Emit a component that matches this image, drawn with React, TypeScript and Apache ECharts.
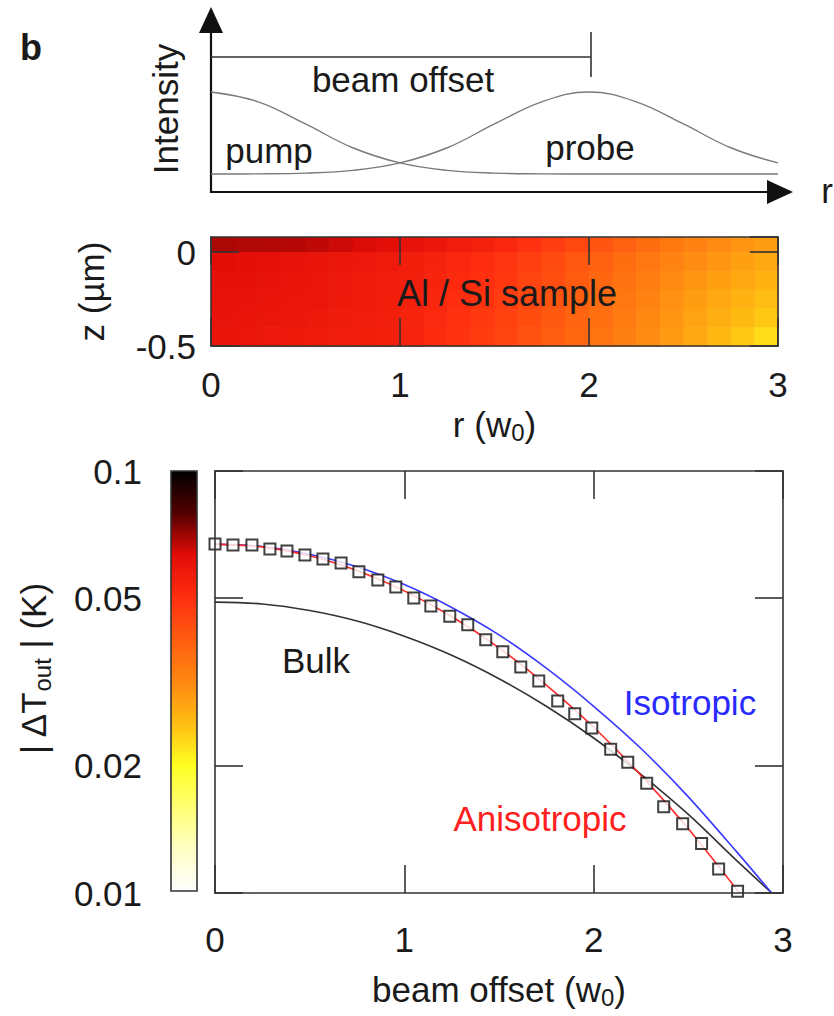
import { useEffect, useRef } from "react";
import * as echarts from "echarts";

const FONT = "'Liberation Sans', Arial, Helvetica, sans-serif";
const INK = "#1a1a1a";
const FRAME = "#333333";

// ---- top schematic: beam intensity profiles (r in units of w0) ----
const beamR = [0, 0.25, 0.5, 0.75, 1, 1.25, 1.5, 1.75, 2, 2.25, 2.5, 2.75, 3];
const pumpI = [1, 0.88, 0.61, 0.32, 0.135, 0.044, 0.011, 0.002, 0, 0, 0, 0, 0];
const probeI = [0, 0.002, 0.011, 0.044, 0.135, 0.32, 0.61, 0.88, 1, 0.88, 0.61, 0.32, 0.135];

// ---- middle: temperature map of the Al / Si sample ----
const heatR = [0, 0.125, 0.25, 0.375, 0.5, 0.625, 0.75, 0.875, 1, 1.125, 1.25, 1.375, 1.5, 1.625, 1.75, 1.875, 2, 2.125, 2.25, 2.375, 2.5, 2.625, 2.75, 2.875, 3];
const heatZ = [0.08, 0, -0.1, -0.2, -0.3, -0.4, -0.5];
const heatT = [
  [0.0690, 0.0685, 0.0682, 0.0678, 0.0668, 0.0653, 0.0638, 0.0624, 0.0606, 0.0585, 0.0565, 0.0546, 0.0522, 0.0493, 0.0465, 0.0439, 0.0413, 0.0388, 0.0364, 0.0342, 0.0324, 0.0312, 0.0299, 0.0288],
  [0.0627, 0.0620, 0.0613, 0.0606, 0.0598, 0.0590, 0.0581, 0.0573, 0.0560, 0.0542, 0.0526, 0.0509, 0.0487, 0.0460, 0.0434, 0.0410, 0.0387, 0.0365, 0.0345, 0.0325, 0.0310, 0.0298, 0.0286, 0.0275],
  [0.0614, 0.0609, 0.0603, 0.0598, 0.0591, 0.0583, 0.0575, 0.0566, 0.0553, 0.0534, 0.0516, 0.0498, 0.0476, 0.0449, 0.0424, 0.0400, 0.0378, 0.0355, 0.0334, 0.0315, 0.0299, 0.0286, 0.0274, 0.0263],
  [0.0607, 0.0602, 0.0596, 0.0591, 0.0585, 0.0576, 0.0568, 0.0560, 0.0546, 0.0526, 0.0506, 0.0488, 0.0465, 0.0439, 0.0414, 0.0391, 0.0368, 0.0346, 0.0325, 0.0305, 0.0288, 0.0275, 0.0263, 0.0251],
  [0.0600, 0.0595, 0.0590, 0.0585, 0.0578, 0.0570, 0.0561, 0.0553, 0.0539, 0.0517, 0.0497, 0.0477, 0.0454, 0.0429, 0.0405, 0.0382, 0.0360, 0.0338, 0.0317, 0.0298, 0.0281, 0.0267, 0.0253, 0.0241],
  [0.0593, 0.0588, 0.0583, 0.0578, 0.0572, 0.0566, 0.0559, 0.0553, 0.0537, 0.0513, 0.0490, 0.0468, 0.0444, 0.0419, 0.0396, 0.0374, 0.0352, 0.0330, 0.0310, 0.0291, 0.0273, 0.0256, 0.0241, 0.0226],
];

// ---- bottom: |dT_out| (K) vs beam offset (w0) ----
const bulkX = [0, 0.25, 0.5, 0.75, 1, 1.25, 1.5, 1.75, 2, 2.25, 2.5, 2.75, 2.94];
const bulkY = [0.0489, 0.0484, 0.0467, 0.0441, 0.0406, 0.0366, 0.0322, 0.0277, 0.0233, 0.0191, 0.01535, 0.0120, 0.0100];
const isoX = [0, 0.25, 0.5, 0.75, 1, 1.25, 1.5, 1.75, 2, 2.25, 2.5, 2.75, 2.94];
const isoY = [0.0671, 0.0662, 0.0635, 0.0593, 0.0538, 0.0475, 0.0409, 0.0341, 0.0277, 0.0220, 0.0169, 0.0126, 0.0100];
const anisoX = [0, 0.25, 0.5, 0.75, 1, 1.25, 1.5, 1.75, 2, 2.25, 2.5, 2.77];
const anisoY = [0.0671, 0.0661, 0.0630, 0.0581, 0.0520, 0.0452, 0.0381, 0.0311, 0.0247, 0.0190, 0.0142, 0.0100];
const measX = [0, 0.095, 0.195, 0.29, 0.38, 0.475, 0.57, 0.666, 0.76, 0.86, 0.955, 1.05, 1.14, 1.24, 1.335, 1.43, 1.52, 1.615, 1.71, 1.81, 1.9, 1.99, 2.09, 2.18, 2.28, 2.37, 2.47, 2.57, 2.66, 2.76];
const measY = [0.0671, 0.0668, 0.0668, 0.0653, 0.0646, 0.0632, 0.0619, 0.0605, 0.0577, 0.0552, 0.0531, 0.05, 0.0479, 0.0453, 0.0432, 0.0398, 0.0373, 0.0343, 0.0318, 0.0285, 0.0266, 0.0246, 0.0219, 0.0204, 0.0182, 0.016, 0.0146, 0.0131, 0.0114, 0.0101];
const yTicks = [0.01, 0.02, 0.05, 0.1];
const offsetTicks = [0, 1, 2, 3];

// colour map of the colour bar (white -> yellow -> orange -> red -> black)
const heatColors = ["#ffffff", "#ffffc4", "#ffff72", "#ffff22", "#ffbc12", "#ff8812", "#ff5c10", "#ff2e10", "#e20c08", "#520000", "#000000"];

const pair = (xs: number[], ys: number[]) => xs.map((x, i) => [x, Math.log10(ys[i])]);

const frameAxis = (extra: any) => ({
  z: 6,
  axisLine: { show: true, onZero: false, lineStyle: { color: FRAME, width: 1.6 } },
  axisTick: { show: true, inside: true, length: 28, lineStyle: { color: FRAME, width: 1.6 } },
  splitLine: { show: false },
  nameMoveOverlap: false,
  ...extra,
});

export default function App() {
  const ref = useRef<HTMLDivElement>(null);
  useEffect(() => {
    if (!ref.current) return;
    const chart = echarts.init(ref.current, null, { renderer: "svg" });

    const heatData: number[][] = [];
    for (let j = 0; j < heatT.length; j++) {
      for (let i = 0; i < heatR.length - 1; i++) {
        heatData.push([heatR[i], heatR[i + 1], heatZ[j], heatZ[j + 1], Math.log10(heatT[j][i])]);
      }
    }
    const logTicks = yTicks.map((v) => Math.log10(v));
    const tickFmt = (v: number) => String(Number(Math.pow(10, v).toPrecision(1)));
    const lbl = { fontSize: 35, color: INK, fontFamily: FONT };
    const sub = { fontSize: 24, lineHeight: 24, verticalAlign: "bottom", fontFamily: FONT, color: INK };

    const option: any = {
      animation: false,
      backgroundColor: "#ffffff",
      textStyle: { fontFamily: FONT },
      grid: [
        { left: 211, top: 92, width: 567, height: 82, containLabel: false, outerBoundsMode: "none" },
        { left: 211, top: 237, width: 567, height: 109, containLabel: false, outerBoundsMode: "none" },
        { left: 215, top: 471, width: 568, height: 422, containLabel: false, outerBoundsMode: "none" },
      ],
      xAxis: [
        { gridIndex: 0, type: "value", min: 0, max: 3, show: false },
        frameAxis({
          gridIndex: 1, type: "value", min: 0, max: 3, interval: 1, position: "bottom",
          axisLabel: { ...lbl, margin: 21 },
          name: "r (w{sub|0})", nameLocation: "middle", nameGap: 58,
          nameTextStyle: { ...lbl, lineHeight: 40, rich: { sub } },
        }),
        frameAxis({ gridIndex: 1, type: "value", min: 0, max: 3, interval: 1, position: "top", axisLabel: { show: false } }),
        frameAxis({
          gridIndex: 2, type: "value", min: 0, max: 3, interval: 1, position: "bottom",
          axisLabel: { ...lbl, margin: 29, customValues: offsetTicks },
          name: "beam offset (w{sub|0})", nameLocation: "middle", nameGap: 76,
          nameTextStyle: { ...lbl, lineHeight: 40, rich: { sub } },
        }),
        frameAxis({ gridIndex: 2, type: "value", min: 0, max: 3, interval: 1, position: "top", axisLabel: { show: false } }),
      ],
      yAxis: [
        { gridIndex: 0, type: "value", min: 0, max: 1, show: false },
        frameAxis({
          gridIndex: 1, type: "value", min: -0.5, max: 0.08, interval: 0.5, position: "left",
          axisLabel: { ...lbl, margin: 15, showMaxLabel: false, formatter: (v: number) => (Math.abs(v) < 1e-9 ? "0" : String(v)) },
          name: "z (\u00b5m)", nameLocation: "middle", nameRotate: 90, nameGap: 102,
          nameTextStyle: { ...lbl },
        }),
        frameAxis({ gridIndex: 1, type: "value", min: -0.5, max: 0.08, interval: 0.5, position: "right", axisLabel: { show: false } }),
        frameAxis({
          gridIndex: 2, type: "value", min: -2, max: -1, position: "left",
          axisTick: { show: true, inside: true, length: 28, customValues: logTicks, lineStyle: { color: FRAME, width: 1.6 } },
          axisLabel: { ...lbl, margin: 73, customValues: logTicks, formatter: tickFmt },
          name: "| \u0394T{sub|out} | (K)", nameLocation: "middle", nameRotate: 90, nameGap: 161,
          nameTextStyle: { ...lbl, lineHeight: 42, padding: [0, 0, 0, 26], rich: { sub } },
        }),
        frameAxis({
          gridIndex: 2, type: "value", min: -2, max: -1, position: "right",
          axisTick: { show: true, inside: true, length: 28, customValues: logTicks, lineStyle: { color: FRAME, width: 1.6 } },
          axisLabel: { show: false },
        }),
      ],
      visualMap: [
        {
          type: "continuous", seriesIndex: 2, dimension: 4, min: -2, max: -1,
          orient: "vertical", left: 171, top: 471, itemWidth: 26, itemHeight: 420,
          padding: 0, calculable: false, hoverLink: false, realtime: false,
          inRange: { color: heatColors },
          textStyle: { fontSize: 1, color: "rgba(0,0,0,0)" },
        },
      ],
      series: [
        {
          type: "line", xAxisIndex: 0, yAxisIndex: 0, data: beamR.map((r, i) => [r, pumpI[i]]),
          smooth: 0.4, symbol: "none", clip: false, lineStyle: { color: "#7a7a7a", width: 1.4 },
        },
        {
          type: "line", xAxisIndex: 0, yAxisIndex: 0, data: beamR.map((r, i) => [r, probeI[i]]),
          smooth: 0.4, symbol: "none", clip: false, lineStyle: { color: "#7a7a7a", width: 1.4 },
        },
        {
          type: "custom", xAxisIndex: 1, yAxisIndex: 1, data: heatData, z: 1,
          encode: { x: [0, 1], y: [2, 3] },
          renderItem: (params: any, api: any) => {
            const a = api.coord([api.value(0), api.value(2)]);
            const b = api.coord([api.value(1), api.value(3)]);
            return {
              type: "rect",
              shape: { x: a[0], y: a[1], width: b[0] - a[0] + 0.7, height: b[1] - a[1] + 0.7 },
              style: { fill: api.visual("color") },
            };
          },
        },
        {
          name: "Bulk", type: "line", xAxisIndex: 3, yAxisIndex: 3, data: pair(bulkX, bulkY),
          smooth: 0.3, symbol: "none", clip: false, lineStyle: { color: "#333333", width: 1.6 },
        },
        {
          name: "Isotropic", type: "line", xAxisIndex: 3, yAxisIndex: 3, data: pair(isoX, isoY),
          smooth: 0.3, symbol: "none", clip: false, lineStyle: { color: "#3a3aff", width: 1.6 },
        },
        {
          name: "Anisotropic", type: "line", xAxisIndex: 3, yAxisIndex: 3, data: pair(anisoX, anisoY),
          smooth: 0.3, symbol: "none", clip: false, lineStyle: { color: "#ff2a2a", width: 1.6 },
        },
        {
          name: "Measured", type: "scatter", xAxisIndex: 3, yAxisIndex: 3, data: pair(measX, measY),
          symbol: "rect", symbolSize: 11, z: 5,
          itemStyle: { color: "#ffffff", borderColor: "#111111", borderWidth: 2 },
        },
      ],
      graphic: [
        { type: "text", x: 31, y: 47, silent: true, style: { text: "b", fontSize: 36, fontWeight: "bold", fontFamily: FONT, fill: INK, align: "center", verticalAlign: "middle" } },
        { type: "text", x: 165, y: 109, rotation: Math.PI / 2, silent: true, style: { text: "Intensity", fontSize: 35, fontFamily: FONT, fill: INK, align: "center", verticalAlign: "middle" } },
        { type: "line", silent: true, shape: { x1: 211, y1: 193, x2: 211, y2: 28 }, style: { stroke: "#111", lineWidth: 2.2 } },
        { type: "polygon", silent: true, shape: { points: [[211, 7], [199, 33], [223, 33]] }, style: { fill: "#111" } },
        { type: "line", silent: true, shape: { x1: 210, y1: 192, x2: 772, y2: 192 }, style: { stroke: "#111", lineWidth: 2.2 } },
        { type: "polygon", silent: true, shape: { points: [[793, 192], [767, 180], [767, 204]] }, style: { fill: "#111" } },
        { type: "text", x: 827, y: 190, silent: true, style: { text: "r", fontSize: 35, fontFamily: FONT, fill: INK, align: "center", verticalAlign: "middle" } },
        { type: "line", silent: true, shape: { x1: 211, y1: 57, x2: 591, y2: 57 }, style: { stroke: FRAME, lineWidth: 1.6 } },
        { type: "line", silent: true, shape: { x1: 591, y1: 32, x2: 591, y2: 77 }, style: { stroke: FRAME, lineWidth: 1.6 } },
        { type: "text", x: 403, y: 79, silent: true, style: { text: "beam offset", fontSize: 35, fontFamily: FONT, fill: INK, align: "center", verticalAlign: "middle" } },
        { type: "text", x: 269, y: 150, silent: true, style: { text: "pump", fontSize: 35, fontFamily: FONT, fill: INK, align: "center", verticalAlign: "middle" } },
        { type: "text", x: 590, y: 147, silent: true, style: { text: "probe", fontSize: 35, fontFamily: FONT, fill: INK, align: "center", verticalAlign: "middle" } },
        { type: "text", x: 507, y: 293, z: 50, silent: true, style: { text: "Al / Si sample", fontSize: 36, fontFamily: FONT, fill: INK, align: "center", verticalAlign: "middle" } },
        { type: "rect", z: 50, silent: true, shape: { x: 171, y: 471, width: 26, height: 420 }, style: { fill: "none", stroke: FRAME, lineWidth: 1.6 } },
        { type: "text", x: 316, y: 660, silent: true, style: { text: "Bulk", fontSize: 35, fontFamily: FONT, fill: INK, align: "center", verticalAlign: "middle" } },
        { type: "text", x: 690, y: 702, silent: true, style: { text: "Isotropic", fontSize: 35, fontFamily: FONT, fill: "#2a2aff", align: "center", verticalAlign: "middle" } },
        { type: "text", x: 540, y: 818, silent: true, style: { text: "Anisotropic", fontSize: 35, fontFamily: FONT, fill: "#ff2020", align: "center", verticalAlign: "middle" } },
      ],
    };
    chart.setOption(option);
    return () => chart.dispose();
  }, []);
  return <div ref={ref} style={{ position: "absolute", left: 0, top: 0, width: 834, height: 1016 }} />;
}
